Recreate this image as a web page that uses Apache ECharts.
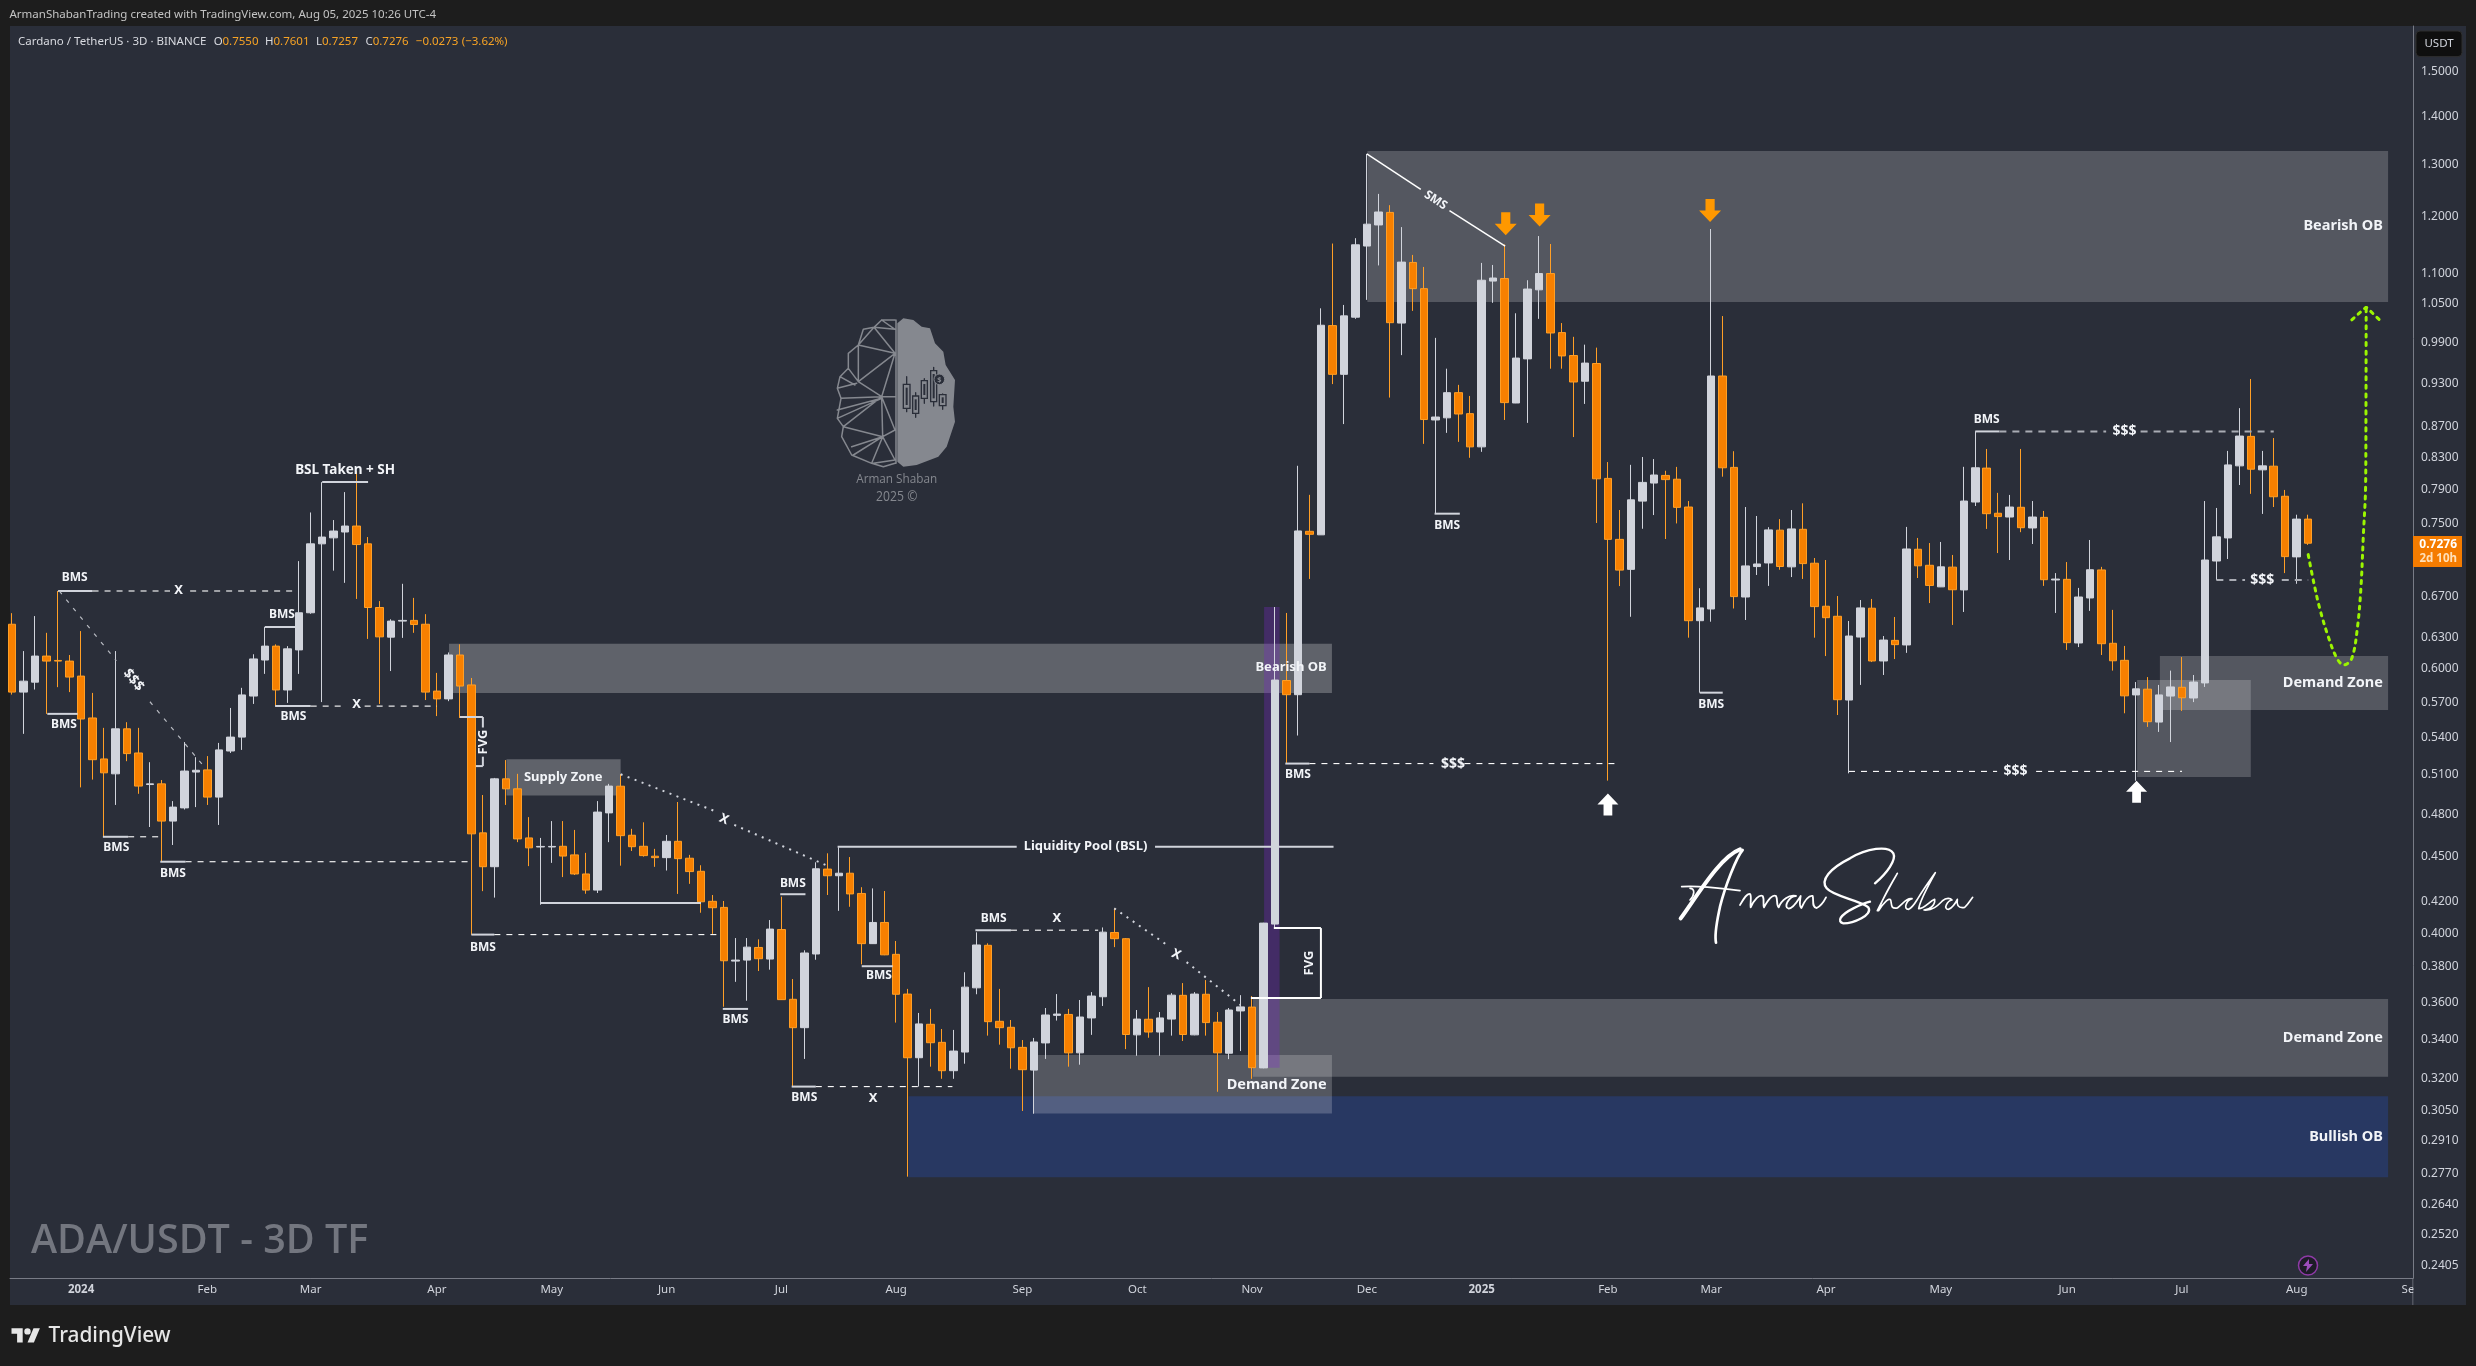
<!DOCTYPE html>
<html><head><meta charset="utf-8">
<style>html,body{margin:0;background:#1d1d1d}#c{width:2476px;height:1366px}</style>
<script src="https://cdn.jsdelivr.net/npm/echarts@6/dist/echarts.min.js"></script>
</head><body><div id="c"></div>
<script>
const opens=[.6426,.5791,.5880,.6120,.6079,.6073,.5935,.5566,.5227,.5109,
.5474,.5275,.5026,.5031,.4752,.4849,.5123,.5140,.4930,.5291,
.5405,.5756,.6083,.6214,.5810,.6178,.6540,.7269,.7336,.7402,
.7470,.7269,.6593,.6300,.6457,.6464,.6426,.5800,.5731,.6130,
.5855,.4667,.4431,.5070,.4993,.4631,.4567,.4567,.4572,.4512,
.4382,.4275,.4812,.5013,.4650,.4572,.4503,.4493,.4607,.4489,
.4400,.4202,.4163,.3834,.3840,.3915,.3846,.4024,.3616,.3462,
.3876,.4415,.4370,.4387,.4253,.3938,.4068,.3874,.3645,.3306,
.3480,.3385,.3241,.3335,.3680,.3928,.3496,.3464,.3359,.3244,
.3382,.3528,.3533,.3331,.3514,.3630,.4006,.3968,.3424,.3507,
.3439,.3508,.3638,.3424,.3644,.3491,.3329,.3552,.3573,.3255,
.4058,.5895,.5768,.7410,.7370,1.0157,.9426,1.0289,1.1475,1.1852,
1.2082,1.0197,1.1190,1.0749,.8789,.8818,.9165,.8875,.8434,1.0875,
1.0917,.9021,.9652,1.0730,1.1001,1.0049,.9702,.9327,.9584,.8036,
.7319,.6990,.7761,.7979,.8073,.8026,.7691,.6461,.6578,.9402,
.8173,.6700,.7020,.7059,.7423,.7017,.7433,.7056,.6606,.6505,
.5721,.6301,.6586,.6074,.6269,.6225,.7209,.7034,.6805,.7014,
.6773,.7750,.8164,.7618,.7574,.7688,.7448,.7570,.6877,.6884,
.6244,.6690,.6984,.6241,.6080,.5766,.5817,.5531,.5756,.5834,
.5739,.5873,.7080,.7335,.8192,.8571,.8142,.8188,.7819,.7125,
.7550];
const closes=[.5791,.5889,.6120,.6073,.6073,.5926,.5557,.5221,.5117,.5474,
.5270,.5014,.5031,.4752,.4855,.5131,.5137,.4930,.5300,.5405,
.5766,.6093,.6214,.5810,.6188,.6540,.7269,.7345,.7413,.7470,
.7261,.6593,.6303,.6457,.6464,.6423,.5791,.5731,.6130,.5845,
.4660,.4431,.5070,.4993,.4624,.4561,.4571,.4571,.4504,.4382,
.4275,.4818,.5014,.4647,.4569,.4507,.4493,.4607,.4486,.4398,
.4199,.4161,.3836,.3840,.3917,.3848,.4027,.3614,.3462,.3882,
.4417,.4370,.4387,.4250,.3938,.4068,.3871,.3644,.3306,.3482,
.3383,.3241,.3340,.3684,.3930,.3494,.3462,.3357,.3246,.3387,
.3530,.3535,.3331,.3519,.3634,.4008,.3968,.3426,.3508,.3439,
.3514,.3639,.3426,.3645,.3489,.3331,.3557,.3574,.3256,.4064,
.5899,.5768,.7414,.7376,1.0163,.9426,1.0310,1.1497,1.1866,1.2090,
1.0203,1.1196,1.0749,.8795,.8829,.9165,.8870,.8434,1.0889,1.0926,
.9026,.9664,1.0743,1.1001,1.0043,.9696,.9316,.9590,.8031,.7319,
.6982,.7776,.7987,.8078,.8021,.7687,.6461,.6589,.9402,.8168,
.6704,.7027,.7048,.7426,.7021,.7437,.7052,.6602,.6491,.5724,
.6311,.6589,.6074,.6272,.6228,.7212,.7028,.6820,.7017,.6775,
.7762,.8168,.7613,.7579,.7691,.7451,.7574,.6880,.6887,.6247,
.6700,.6986,.6237,.6076,.5758,.5820,.5534,.5766,.5837,.5741,
.5881,.7091,.7347,.8204,.8575,.8150,.8192,.7813,.7128,.7550,
.7276];
const lows=[.5769,.5432,.5814,.5601,.5835,.5791,.5004,.5064,.4639,.4871,
.5209,.4955,.4709,.4465,.4581,.4837,.4855,.4871,.4724,.5275,
.5300,.5687,.5955,.5668,.5696,.5955,.6530,.5703,.6976,.6847,
.6680,.6283,.5687,.5981,.6293,.6342,.5721,.5582,.5711,.5566,
.3991,.4268,.4226,.4871,.4601,.4435,.4180,.4457,.4361,.4375,
.4251,.4256,.4601,.4438,.4539,.4500,.4430,.4405,.4250,.4316,
.4129,.3997,.3575,.3714,.3608,.3776,.3784,.3612,.3163,.3300,
.3842,.4243,.4141,.4167,.3815,.3936,.3869,.3489,.2755,.3163,
.3261,.3201,.3201,.3276,.3644,.3420,.3373,.3251,.3047,.3034,
.3300,.3500,.3261,.3271,.3424,.3579,.3917,.3350,.3316,.3409,
.3316,.3420,.3392,.3422,.3420,.3138,.3299,.3340,.3201,.3253,
.4030,.5192,.5418,.6888,.7368,.9286,.8734,1.0263,1.0566,1.1139,
.9096,.9708,1.0389,.8473,.7613,.8617,.8499,.8294,.8370,1.0518,
.8789,.9019,.8750,1.0263,.9508,.9508,.8562,.9008,.7505,.5056,
.6813,.6500,.7439,.7597,.7323,.7500,.6295,.5786,.6451,.8057,
.6583,.6468,.6930,.6815,.6986,.6908,.6888,.6295,.6120,.5591,
.5113,.5855,.6064,.5945,.6092,.6150,.6898,.6638,.6803,.6419,
.6548,.7703,.7437,.7167,.7091,.7400,.7267,.6815,.6538,.6178,
.6205,.6559,.6130,.5985,.5606,.5055,.5490,.5448,.5364,.5626,
.5703,.5837,.6877,.7102,.7955,.7848,.7610,.7691,.6950,.6837,
.7257];
const highs=[.6536,.6167,.6507,.6342,.6762,.6130,.6359,.5784,.5482,.6167,
.5530,.5482,.5201,.5061,.4900,.5364,.5241,.5250,.5357,.5652,
.5829,.6137,.6399,.6231,.6214,.7079,.7627,.7990,.7539,.7869,
.8124,.7345,.6658,.6475,.6837,.6691,.6526,.5964,.6154,.6231,
.5918,.4946,.5077,.5218,.5109,.4781,.4631,.4752,.4752,.4688,
.4526,.4900,.5031,.5106,.4696,.4743,.4554,.4652,.4893,.4512,
.4441,.4243,.4204,.3972,.3972,.3964,.4083,.4232,.3730,.3898,
.4461,.4523,.4565,.4497,.4294,.4286,.4269,.3954,.3674,.3541,
.3563,.3455,.3450,.3769,.4007,.3940,.3674,.3503,.3397,.3408,
.3568,.3645,.3563,.3612,.3656,.4037,.4157,.3972,.3557,.3684,
.3546,.3650,.3707,.3656,.3724,.3546,.3568,.3639,.3634,.4066,
.6598,.6538,.8193,.7836,1.0430,1.1519,1.0484,1.1614,1.3216,1.2430,
1.2217,1.1813,1.1320,1.1113,.9968,.9508,.9275,.9119,1.1182,1.1147,
1.1504,1.0351,1.0889,1.1652,1.1511,1.0197,.9984,.9865,.9820,.8240,
.7656,.8205,.8304,.8278,.8131,.8179,.7762,.6791,1.1778,1.0307,
.8378,.7691,.7586,.7457,.7550,.7656,.7735,.7113,.7091,.6710,
.6458,.6669,.6680,.6311,.6498,.7460,.7335,.7278,.7290,.7146,
.8180,.8638,.8407,.7860,.7835,.8407,.7762,.7645,.6950,.7069,
.6794,.7312,.7017,.6569,.6216,.5881,.5926,.5855,.5985,.6111,
.5945,.7762,.7680,.8382,.8950,.9359,.8382,.8549,.7895,.7601,
.7601];
const priceTicks=[1.5,1.4,1.3,1.2,1.1,1.05,.99,.93,.87,.83,.79,.75,.67,.63,.6,.57,.54,.51,.48,.45,.42,.4,.38,.36,.34,.32,.305,.291,.277,.264,.252,.2405];
const timeTickBars=[6,17,26,37,47,57,67,77,88,98,108,118,128,139,148,158,168,179,189,199,209];
const timeTickLabels=['2024','Feb','Mar','Apr','May','Jun','Jul','Aug','Sep','Oct','Nov','Dec','2025','Feb','Mar','Apr','May','Jun','Jul','Aug','Sep'];
const lastClose=.7276;

// annotations, anchored to [bar number, price]
const zones=[
 [78.08,206.96,.3117,.2753,'#283862'],
 [118.05,206.96,1.3275,1.053,'rgba(255,255,255,.2)'],
 [38.05,114.96,.6237,.5783,'rgba(255,255,255,.25)'],
 [43.06,53.0,.5225,.4942,'rgba(255,255,255,.25)'],
 [108.08,206.96,.3618,.3211,'rgba(255,255,255,.2)'],
 [89.0,114.96,.3320,.3035,'rgba(255,255,255,.2)'],
 [187.08,206.96,.6120,.5634,'rgba(255,255,255,.2)'],
 [185.1,195.0,.5899,.5084,'rgba(255,255,255,.2)'],
 [109.05,110.4,.6598,.3256,'rgba(120,40,200,.32)']
];
const lineStyles={
 s:{stroke:'#d1d4dc',lineWidth:2},
 w:{stroke:'#ffffff',lineWidth:2},
 l:{stroke:'#ffffff',lineWidth:1.5},
 d:{stroke:'#ffffff',lineWidth:1.1,lineDash:[6,6]},
 g:{stroke:'#a9acb4',lineWidth:2,lineDash:[7,6]},
 q:{stroke:'#b8bbc2',lineWidth:1.2,lineDash:[4,7]},
 o:{stroke:'#d1d4dc',lineWidth:2,lineDash:[2,5.5]}
};
const segments=[
 [4,.6762,7,.6762,'s'],[3.06,.5601,5.7,.5601,'s'],[7.9,.4639,10.1,.4639,'s'],[12.9,.4465,15.1,.4465,'s'],
 [22,.64,24.8,.64,'s'],[22.9,.5668,26,.5668,'s'],[27,.7993,31,.7993,'s'],
 [39,.5574,41,.5574,'s'],[41,.5574,41,.5485,'s'],[41,.5245,41,.517,'s'],[40.4,.517,41,.517,'s'],
 [40,.3993,42,.3993,'s'],[46,.4191,60,.4191,'s'],[66.9,.4248,69.1,.4248,'s'],
 [71.9,.4569,87.5,.4569,'s'],[99.55,.4569,115.1,.4569,'s'],[74,.3804,76.7,.3804,'s'],[83.9,.402,87,.402,'s'],
 [61.9,.3563,64.1,.3563,'s'],[67.9,.3163,70,.3163,'s'],[110.9,.519,113,.519,'s'],[123.9,.7613,126.1,.7613,'s'],
 [147,.5786,149,.5786,'s'],[171,.8636,173.1,.8636,'s'],
 [109.9,.4033,114,.4033,'w'],[114,.4033,114,.3623,'w'],[107.9,.3623,114,.3623,'w'],
 [118,1.3216,122.7,1.2518,'l'],[125.2,1.2114,130.05,1.1475,'l'],
 [7,.6762,13.75,.6762,'d'],[15.5,.6762,24.6,.6762,'d'],[10.1,.4639,12.9,.4639,'d'],[15.1,.4465,40,.4465,'d'],
 [26,.5668,29.1,.5668,'d'],[30.7,.5668,37,.5668,'d'],[42,.3993,61.6,.3993,'d'],[70,.3163,81.9,.3163,'d'],
 [87,.402,94.6,.402,'d'],[113,.519,123.8,.519,'d'],[126.5,.519,140,.519,'d'],
 [160,.5128,172.9,.5128,'d'],[176.3,.5128,189,.5128,'d'],
 [173.1,.8636,182.4,.8636,'g'],[185.4,.8636,197,.8636,'g'],[192,.6877,194.5,.6877,'g'],[197.7,.6877,200,.6877,'g'],
 [4.1,.6762,9.07,.6076,'q'],[12,.5706,16.6,.5178,'q'],
 [53,.5106,61.45,.4817,'o'],[62.9,.4724,71,.4438,'o'],[96,.4157,100.7,.3925,'o'],[102.3,.3828,107,.3584,'o']
];
const labels=[
 ['BMS',5.45,.6898,12],['BMS',4.5,.5506,12],['BMS',9.07,.4561,12],['BMS',14,.4387,12],['BMS',23.5,.6526,12],['BMS',24.5,.5574,12],
 ['BMS',41,.3917,12],['BMS',68,.432,12],['BMS',75.5,.3747,12],['BMS',85.5,.4093,12],['BMS',63,.3503,12],['BMS',69,.3108,12],
 ['BMS',112,.5102,12],['BMS',125,.7481,12],['BMS',148,.5684,12],['BMS',172,.8788,12],
 ['X',14.5,.6772,13],['X',30,.568,13],['X',75,.3108,13],['X',91,.4093,13],['X',62,.4765,13,-.41],['X',101.4,.3873,13,-.41],
 ['$$$',125.5,.519,14],['$$$',184,.8636,14],['$$$',196,.6877,14],['$$$',174.5,.5128,14],['$$$',10.56,.5899,14,-.88],
 ['BSL Taken + SH',29,.814,13.5],['Supply Zone',48,.5081,13],['Liquidity Pool (BSL)',93.5,.4569,13],
 ['FVG',41.03,.5364,13,Math.PI/2],['FVG',112.96,.3823,13,Math.PI/2],['SMS',124,1.2308,12,-.58],
 ['Bearish OB',114.5,.6011,13,0,'right'],['Demand Zone',114.5,.3172,14.5,0,'right'],
 ['Bearish OB',206.5,1.1834,14.5,0,'right'],['Demand Zone',206.5,.5874,14.5,0,'right'],
 ['Demand Zone',206.5,.341,14.5,0,'right'],['Bullish OB',206.5,.293,14.5,0,'right']
];
const forecastPath=[[200,.715],[200.5,.6843],[201,.6586],[201.75,.6304],[202.5,.6099],[203.1,.6037],[203.8,.6099],[204.3,.6403],[204.6,.6807],[204.8,.735],[205,.7934],[205.03,.87],[205.05,1.0437]];
const forecastHead=[[203.8,1.0248],[205.05,1.045],[206.4,1.0216]];
const downArrows=[[130.1,1.1872],[133.05,1.2035],[147.9,1.2116]];
const upArrows=[[139,.4875],[185.05,.497]];

const DAY=864e5, T0=Date.UTC(2023,11,14);
const t=i=>T0+i*3*DAY;
const candles=opens.map((o,i)=>[t(i),o,closes[i],lows[i],highs[i]]);
const FONT='"Noto Sans",sans-serif';

function custom(name,z,items,first,render){
 return {type:'custom',name,z,silent:true,animation:false,coordinateSystem:'cartesian2d',
  data:items.map(first),encode:{x:0,y:1},renderItem:(p,api)=>render(items[p.dataIndex],api)};
}
const at=(api,i,pr)=>api.coord([t(i),pr]);
const WM='#85888f',BG='#2a2e39';
const st=(stroke,lineWidth)=>({fill:null,stroke,lineWidth,lineCap:'round',lineJoin:'round'});
function decorRender(){
 return {type:'group',children:[
  {type:'path',x:11.5,y:1325,scaleX:.8,scaleY:.8,shape:{pathData:'M14 22H7V11H0V4h14v18zM28 22h-8l7.5-18h8L28 22zM24 8a4 4 0 1 1-8 0 4 4 0 0 1 8 0z'},style:{fill:'#e6e6e6'}},
  {type:'circle',shape:{cx:2308,cy:1265.5,r:9.5},style:{fill:'#1d1c27',stroke:'#8e3aa6',lineWidth:1.5}},
  {type:'path',x:2303,y:1259,shape:{pathData:'M6 0L0 7H4L3 13L10 5H6Z'},style:{fill:'#9c4dbb'}},
  {type:'group',x:800,y:290,scaleX:1/3,scaleY:1/3,children:[
   {type:'path',shape:{pathData:'M292 100L310 85L340 90L365 110L390 115L405 160L430 185L437 225L465 270L460 350L465 395L440 470L415 500L350 525L310 530L292 515Z'},style:{fill:WM}},
   {type:'path',shape:{pathData:'M285 90L245 90L222 112L190 118L175 165L145 190L145 235L120 260L112 295L123 325L112 385L130 410L125 440L155 495L215 520L250 530L285 520M285 118L222 112M245 90L285 118M222 112L175 165M222 112L285 190M175 165L285 190M175 165L175 275M285 190L175 275M145 235L175 275M120 260L165 285M112 295L170 280M175 275L245 320M285 190L245 320M123 325L245 320M112 360L245 325M112 385L245 325M245 320L130 410M245 320L248 440M245 320L285 320M245 320L285 420M130 410L248 440M285 420L248 440M248 440L155 470M248 440L160 495M248 440L215 520M248 440L285 510M220 520L285 510M288 90L288 520'},style:st(WM,4.5)},
   {type:'path',shape:{pathData:'M320 260V365M347 308V382M373 266V340M401 232V348M428 312V358'},style:st(BG,4)},
   ...[[310,283,20,72],[338,318,18,52],[364,272,18,53],[392,242,18,93],[418,314,20,33]].map(r=>({type:'rect',shape:{x:r[0],y:r[1],width:r[2],height:r[3]},style:{fill:WM,stroke:BG,lineWidth:4}})),
   ...[[320,293,52],[347,328,32],[373,282,33],[401,252,73],[428,322,17]].map(r=>({type:'rect',shape:{x:r[0]-3,y:r[1],width:6,height:r[2]},style:{fill:BG}})),
   {type:'circle',shape:{cx:418,cy:268,r:16},style:{fill:BG,stroke:WM,lineWidth:3}},
   {type:'text',x:418,y:269,style:{text:'$',fill:WM,font:'bold 22px '+FONT,align:'center',verticalAlign:'middle'}}
  ]},
  {type:'group',x:1640,y:820,scaleX:1/3,scaleY:1/3,children:[
   {type:'path',shape:{pathData:'M122 295C170 230 240 110 300 88'},style:st('#fff',12)},
   {type:'path',shape:{pathData:'M308 90C290 110 255 200 240 260C232 300 222 340 228 368'},style:st('#fff',8)},
   {type:'path',shape:{pathData:'M125 200C180 195 240 205 300 212M150 205C165 205 165 225 150 240'},style:st('#fff',5)},
   {type:'path',shape:{pathData:'M300 255C312 235 322 218 330 222C336 228 330 250 332 262C342 240 358 222 368 228C374 238 368 255 372 262C385 238 398 222 408 228C414 238 408 255 416 262C424 240 448 222 468 228C448 228 428 262 446 266C462 264 474 240 482 228C480 245 476 258 484 264C495 240 508 226 518 228C522 240 514 262 530 264C542 258 552 244 558 232'},style:st('#fff',5.5)},
   {type:'path',shape:{pathData:'M705 190C740 160 770 120 760 100C745 75 680 85 630 115C570 145 540 180 560 205C580 230 660 240 685 262C700 285 640 310 610 310C590 305 600 285 640 265C660 255 670 250 690 245'},style:st('#fff',7)},
   {type:'path',shape:{pathData:'M712 272C730 235 752 195 772 160C748 200 722 245 716 272C730 248 748 232 752 240C756 252 750 268 772 264C790 250 802 232 816 236C800 240 788 268 806 268C818 262 826 248 832 238C852 205 876 172 886 158C866 195 840 240 836 266C854 266 868 244 884 238C886 256 868 270 852 270C880 272 894 256 908 242C918 232 932 234 936 240C922 242 908 268 926 268C940 262 948 246 952 238C950 252 952 266 974 262C984 254 990 242 998 232'},style:st('#fff',5)}
  ]}
 ]};
}

const option={
 animation:false,backgroundColor:'#1d1d1d',
 grid:{left:10,right:63,top:26,height:1252,containLabel:false},
 xAxis:{type:'value',scale:true,min:t(-.1916),max:t(209.13),
  axisLine:{show:true,onZero:false,lineStyle:{color:'#787b86',width:1}},axisTick:{show:false},splitLine:{show:false},
  axisLabel:{customValues:timeTickBars.map(t),margin:6,color:'#d1d4dc',fontSize:11.5,fontFamily:FONT,hideOverlap:false,showMinLabel:true,showMaxLabel:true,
   formatter:v=>{const s=timeTickLabels[timeTickBars.indexOf(Math.round((v-T0)/(3*DAY)))];return /^\d/.test(s)?'{y|'+s+'}':s;},
   rich:{y:{fontWeight:'bold',fontSize:11.5,color:'#d1d4dc',fontFamily:FONT}}}},
 yAxis:{type:'log',logBase:10,position:'right',min:.23586,max:1.6079,
  axisLine:{show:true,onZero:false,lineStyle:{color:'#787b86',width:1}},axisTick:{show:false},splitLine:{show:false},minorTick:{show:false},minorSplitLine:{show:false},
  axisLabel:{customValues:priceTicks,margin:8,color:'#d1d4dc',fontSize:12,fontFamily:FONT,hideOverlap:false,showMinLabel:true,showMaxLabel:true,formatter:v=>(+v).toFixed(4)}},
 series:[
  {type:'custom',name:'decor',coordinateSystem:'none',z:1,silent:true,animation:false,data:[[0]],renderItem:decorRender},
  custom('zones',1,zones,z=>[t(z[0]),z[2]],(z,api)=>{
   const a=at(api,z[0],z[2]),b=at(api,z[1],z[3]);
   return {type:'rect',shape:{x:a[0],y:a[1],width:b[0]-a[0],height:b[1]-a[1]},style:{fill:z[4]}};}),
  {type:'candlestick',name:'ADAUSDT 3D',z:3,barWidth:8,silent:true,data:candles,encode:{x:0,y:[1,2,3,4]},
   itemStyle:{color:'#d1d4dc',color0:'#f78000',borderColor:'#d1d4dc',borderColor0:'#ff9f26',borderWidth:1}},
  custom('lines',4,segments,s=>[t(s[0]),s[1]],(s,api)=>{
   const a=at(api,s[0],s[1]),b=at(api,s[2],s[3]);
   return {type:'line',shape:{x1:a[0],y1:a[1],x2:b[0],y2:b[1]},style:Object.assign({fill:null},lineStyles[s[4]])};}),
  custom('labels',5,labels,l=>[t(l[1]),l[2]],(l,api)=>{
   const a=at(api,l[1],l[2]);
   return {type:'text',x:a[0],y:a[1],rotation:l[4]||0,style:{text:l[0],fill:'#f2f4f8',font:'bold '+l[3]+'px '+FONT,align:l[5]||'center',verticalAlign:'middle'}};}),
  {type:'line',name:'forecast',z:4,silent:true,smooth:.35,symbol:'none',data:forecastPath.map(p=>[t(p[0]),p[1]]),lineStyle:{color:'#9bf500',width:3,type:[3,5.5],cap:'round'}},
  {type:'line',name:'forecast head',z:4,silent:true,symbol:'none',data:forecastHead.map(p=>[t(p[0]),p[1]]),lineStyle:{color:'#9bf500',width:3,type:[3,5.5],cap:'round'}},
  {type:'scatter',name:'down',z:5,silent:true,symbol:'path://M7 0H17V12H24L12 24L0 12H7Z',symbolSize:[22,23],itemStyle:{color:'#ff9800',opacity:1},data:downArrows.map(p=>[t(p[0]),p[1]])},
  {type:'scatter',name:'up',z:5,silent:true,symbol:'path://M7 24H17V12H24L12 0L0 12H7Z',symbolSize:[21,22],itemStyle:{color:'#ffffff',opacity:1},data:upArrows.map(p=>[t(p[0]),p[1]])},
  custom('last price',8,[lastClose],v=>[t(200),v],(v,api)=>{
   const a=at(api,200,v);
   return {type:'group',children:[
    {type:'rect',shape:{x:2413,y:a[1]-7.2,width:49,height:31},style:{fill:'#f57c00'},z2:50},
    {type:'text',x:2457,y:a[1]+1.2,z2:51,style:{text:v.toFixed(4),fill:'#fff',font:'bold 12px '+FONT,align:'right',verticalAlign:'middle'}},
    {type:'text',x:2457,y:a[1]+15.5,z2:51,style:{text:'2d 10h',fill:'#ffe0b8',font:'bold 11.5px '+FONT,align:'right',verticalAlign:'middle'}}
   ]};})
 ],
 graphic:{elements:[
  {type:'rect',z:-2,silent:true,shape:{x:10,y:26,width:2456,height:1279},style:{fill:BG}},
  {type:'rect',z:0,silent:true,shape:{x:2412.5,y:1278,width:1,height:27},style:{fill:'#787b86'}},
  {type:'rect',z:100,silent:true,shape:{x:2413.5,y:1279,width:52,height:26},style:{fill:BG}},
  {type:'text',x:9.5,y:15,style:{text:'ArmanShabanTrading created with TradingView.com, Aug 05, 2025 10:26 UTC-4',fill:'#c4c4c4',font:'11.5px '+FONT,verticalAlign:'middle'}},
  {type:'text',x:18,y:42,z:20,style:{text:'Cardano / TetherUS · 3D · BINANCE',fill:'#d8dae0',font:'11.5px '+FONT,verticalAlign:'middle'}},
  ...[['O',213.8],['H',265],['L',316],['C',365.6]].map(a=>({type:'text',x:a[1],y:42,z:20,style:{text:a[0],fill:'#d8dae0',font:'11.5px '+FONT,verticalAlign:'middle'}})),
  ...[['0.7550',222.5],['0.7601',273.5],['0.7257',322],['0.7276',372.7],['−0.0273',415.8],['(−3.62%)',461.7]].map(a=>({type:'text',x:a[1],y:42,z:20,style:{text:a[0],fill:'#f7a325',font:'11.5px '+FONT,verticalAlign:'middle'}})),
  {type:'rect',z:50,silent:true,shape:{x:2416,y:31,width:46,height:25.6,r:4},style:{fill:'#0f0f0f',stroke:'#2e2e2e',lineWidth:1}},
  {type:'text',x:2439,y:44,z:51,style:{text:'USDT',fill:'#d1d4dc',font:'11.5px '+FONT,align:'center',verticalAlign:'middle'}},
  {type:'text',x:31,y:1242,z:1,style:{text:'ADA/USDT - 3D TF',fill:'#73767f',font:'600 39.5px "Open Sans",sans-serif',verticalAlign:'middle'}},
  {type:'text',x:48.5,y:1336.5,style:{text:'TradingView',fill:'#e6e6e6',font:'500 20.8px "Noto Sans",sans-serif',verticalAlign:'middle'}},
  {type:'text',x:896.7,y:479,scaleX:.87,style:{text:'Arman Shaban',fill:WM,font:'13.5px "Open Sans",sans-serif',align:'center',verticalAlign:'middle'}},
  {type:'text',x:896.7,y:497.5,scaleX:.87,style:{text:'2025 ©',fill:WM,font:'14px "Open Sans",sans-serif',align:'center',verticalAlign:'middle'}}
 ]}
};
const chart=echarts.init(document.getElementById('c'),null,{renderer:'canvas'});
chart.setOption(option);
</script></body></html>
